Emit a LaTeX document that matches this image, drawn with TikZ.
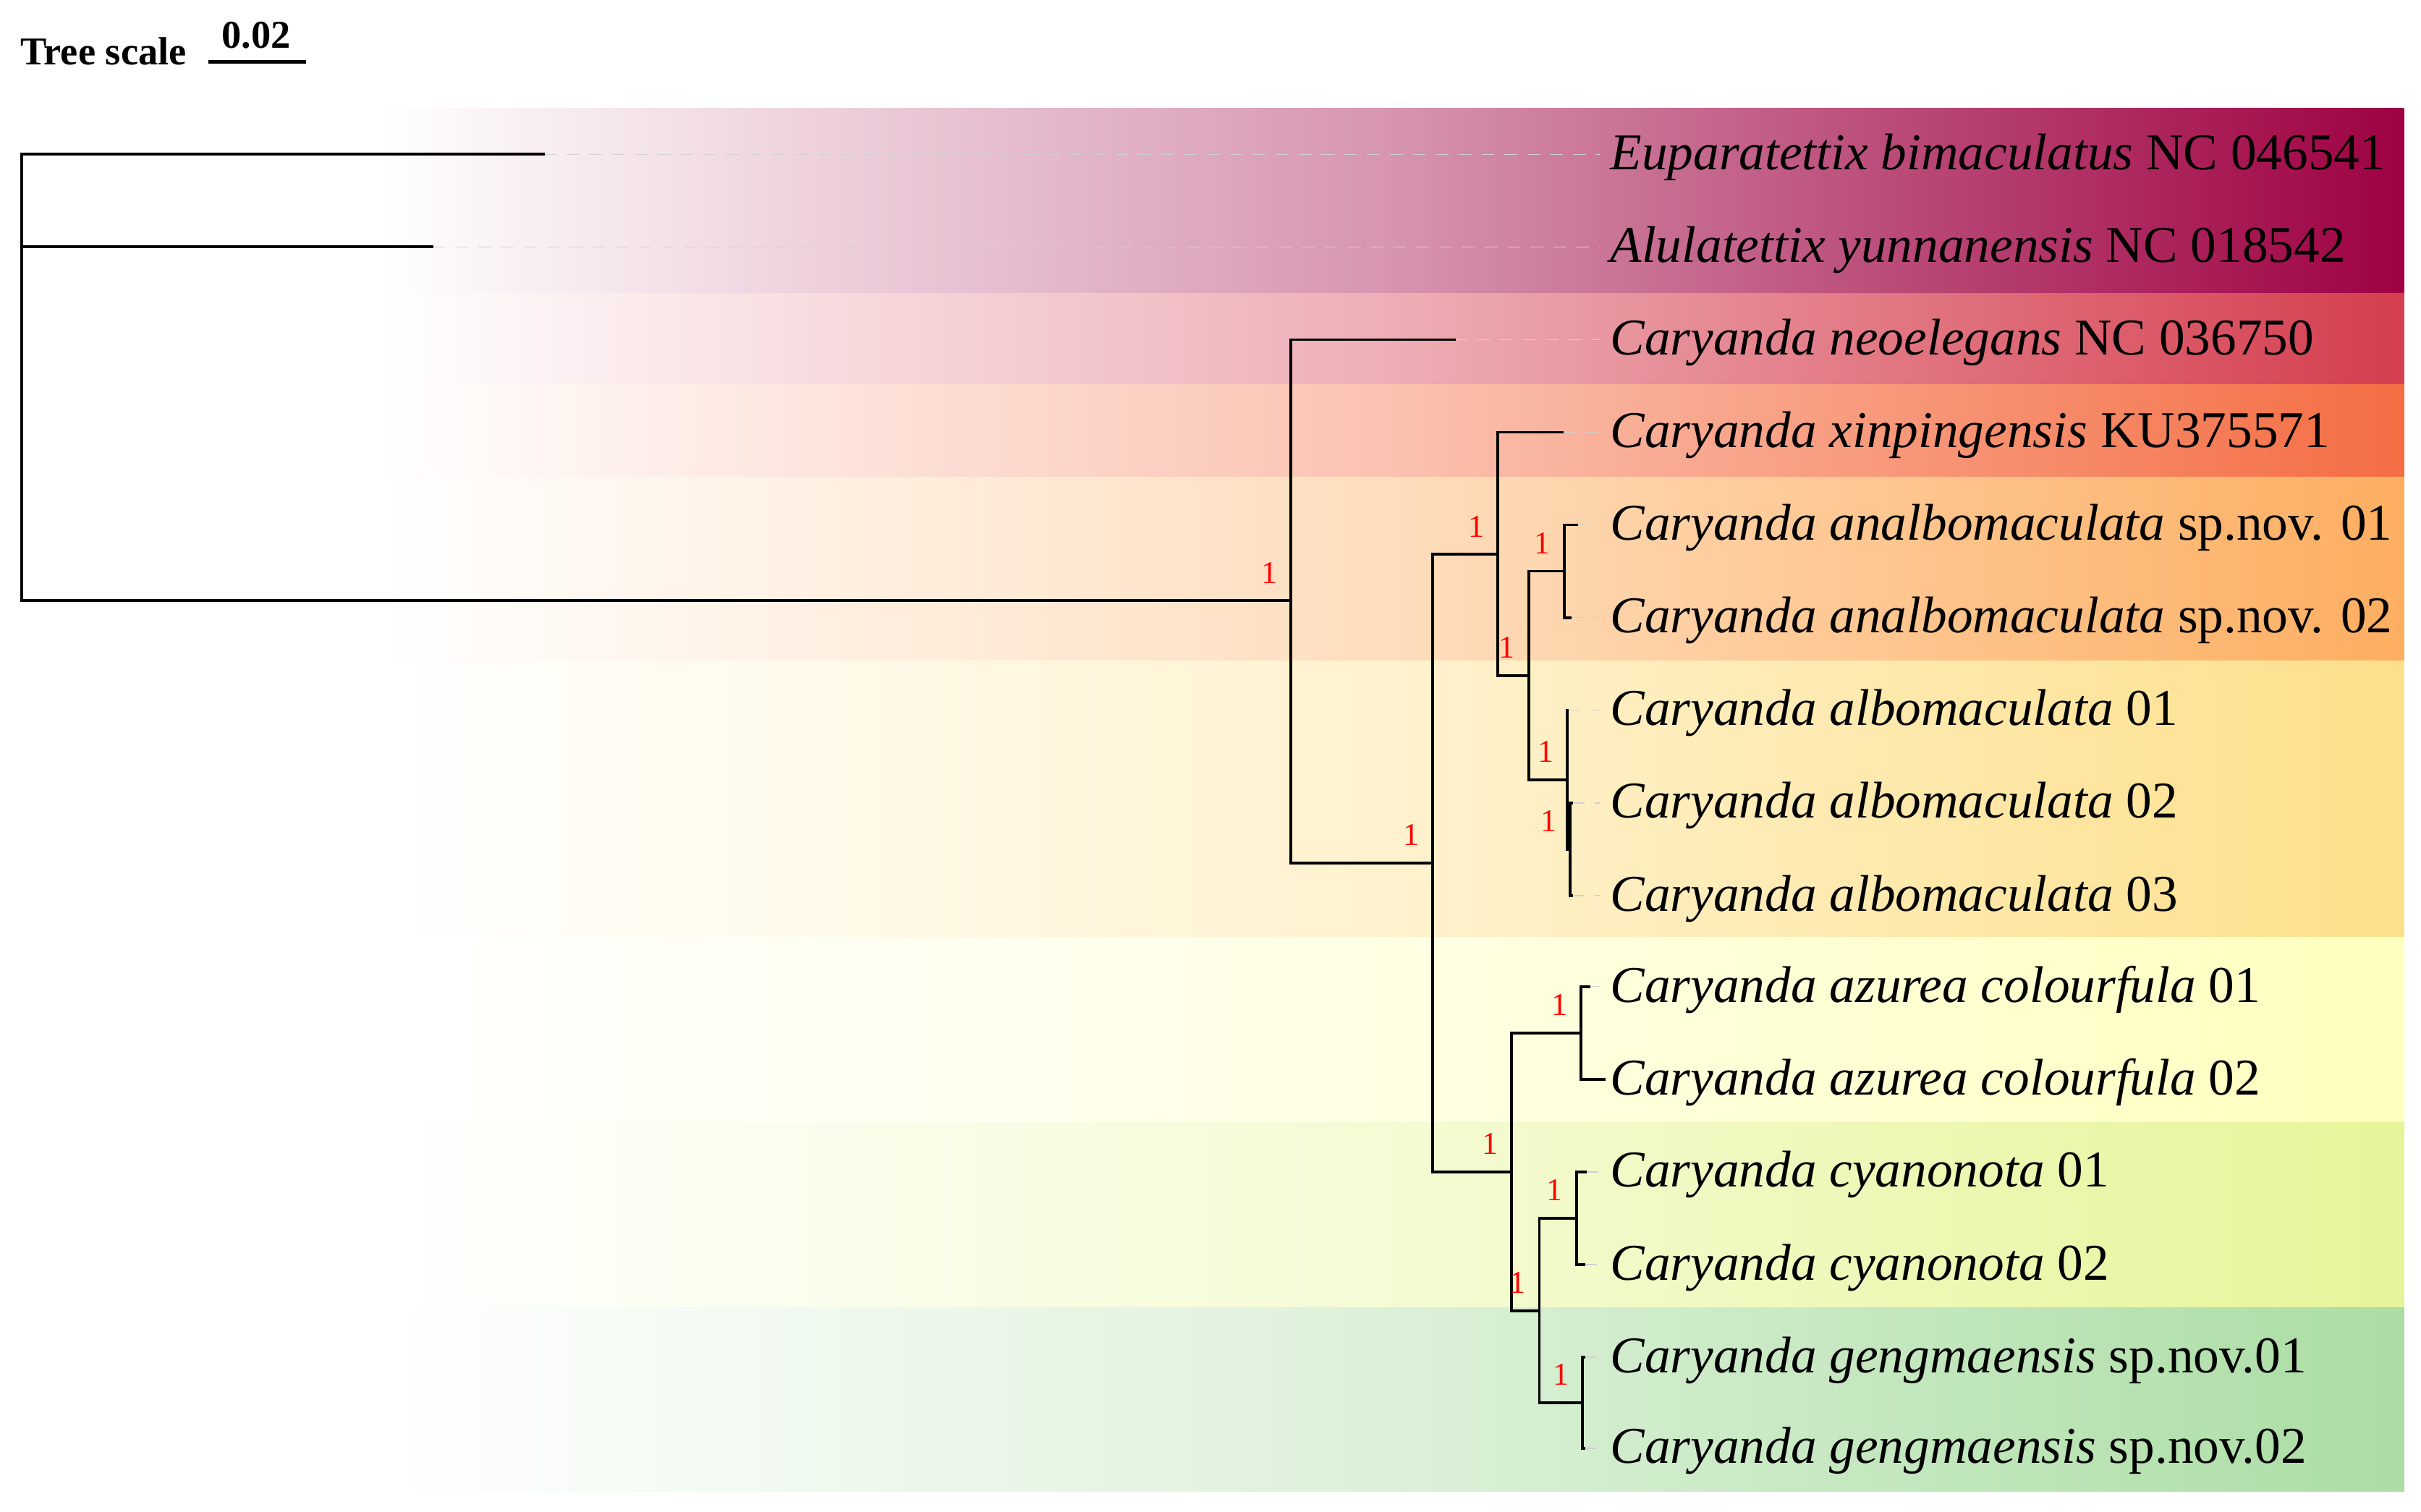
\documentclass[tikz,border=0pt]{standalone}
\usepackage{fontspec}
\setmainfont{Liberation Serif}

\definecolor{spec1}{HTML}{9E0142}
\definecolor{spec2}{HTML}{D53E4F}
\definecolor{spec3}{HTML}{F46D43}
\definecolor{spec4}{HTML}{FDAE61}
\definecolor{spec5}{HTML}{FEE08B}
\definecolor{spec6}{HTML}{FFFFBF}
\definecolor{spec7}{HTML}{E6F598}
\definecolor{spec8}{HTML}{ABDDA4}

\begin{document}
\begin{tikzpicture}[x=0.02134cm,y=-0.02134cm,
  branch/.style={line width=1.1pt,line cap=rect},
  leader/.style={draw=black!18,line width=0.5pt,dash pattern=on 5pt off 4pt},
  taxon/.style={anchor=west,inner xsep=4pt,font=\fontsize{20.3}{24}\selectfont},
  boot/.style={text=red,inner sep=0pt,font=\fontsize{12.5}{14}\selectfont},
  band/.style={left color=white,right color=#1,middle color=#1!42!white}]
  \useasboundingbox (0,0) rectangle (1568,979);

  % colour ranges
  \shade[band=spec1] (245,70) rectangle (1557,190);
  \shade[band=spec2] (245,190) rectangle (1557,249);
  \shade[band=spec3] (245,249) rectangle (1557,309);
  \shade[band=spec4] (245,309) rectangle (1557,428);
  \shade[band=spec5] (245,428) rectangle (1557,607);
  \shade[band=spec6] (245,607) rectangle (1557,727);
  \shade[band=spec7] (245,727) rectangle (1557,847);
  \shade[band=spec8] (245,847) rectangle (1557,966);

  % scale
  \node[anchor=base west,inner sep=0pt,font=\fontsize{15.5}{18}\selectfont\bfseries] (scaletxt) at (13,42) {Tree scale};
  \coordinate (sb1) at (135,40);
  \coordinate (sb2) at (198,40);
  \draw[line width=1.4pt] (sb1) -- (sb2);
  \node[anchor=base,inner sep=0pt,font=\fontsize{15.5}{18}\selectfont\bfseries] (sbval) at (166,31) {0.02};

  % leaves
  \coordinate (t1) at (352,100);
  \coordinate (t2) at (280,160);
  \coordinate (t3) at (942,220);
  \coordinate (t4) at (1012,280);
  \coordinate (t5) at (1021,340);
  \coordinate (t6) at (1017,400);
  \coordinate (t7) at (1015,460);
  \coordinate (t8) at (1018,520);
  \coordinate (t9) at (1018,580);
  \coordinate (t10) at (1029,639);
  \coordinate (t11) at (1039,699);
  \coordinate (t12) at (1027,759);
  \coordinate (t13) at (1026,819);
  \coordinate (t14) at (1026,879);
  \coordinate (t15) at (1026,938);

  \node[taxon] (lab1) at (1036,102) {\textit{Euparatettix bimaculatus} NC 046541};
  \node[taxon] (lab2) at (1036,162) {\textit{Alulatettix yunnanensis} NC 018542};
  \node[taxon] (lab3) at (1036,222) {\textit{Caryanda neoelegans} NC 036750};
  \node[taxon] (lab4) at (1036,282) {\textit{Caryanda xinpingensis} KU375571};
  \node[taxon] (lab5) at (1036,342) {\textit{Caryanda analbomaculata} sp.nov. 01};
  \node[taxon] (lab6) at (1036,402) {\textit{Caryanda analbomaculata} sp.nov. 02};
  \node[taxon] (lab7) at (1036,462) {\textit{Caryanda albomaculata} 01};
  \node[taxon] (lab8) at (1036,522) {\textit{Caryanda albomaculata} 02};
  \node[taxon] (lab9) at (1036,582) {\textit{Caryanda albomaculata} 03};
  \node[taxon] (lab10) at (1036,641) {\textit{Caryanda azurea colourfula} 01};
  \node[taxon] (lab11) at (1036,701) {\textit{Caryanda azurea colourfula} 02};
  \node[taxon] (lab12) at (1036,761) {\textit{Caryanda cyanonota} 01};
  \node[taxon] (lab13) at (1036,821) {\textit{Caryanda cyanonota} 02};
  \node[taxon] (lab14) at (1036,881) {\textit{Caryanda gengmaensis} sp.nov.01};
  \node[taxon] (lab15) at (1036,940) {\textit{Caryanda gengmaensis} sp.nov.02};

  \draw[leader] (t1) -- (t1 -| lab1.west);
  \draw[leader] (t2) -- (t2 -| lab2.west);
  \draw[leader] (t3) -- (t3 -| lab3.west);
  \draw[leader] (t4) -- (t4 -| lab4.west);
  \draw[leader] (t5) -- (t5 -| lab5.west);
  \draw[leader] (t6) -- (t6 -| lab6.west);
  \draw[leader] (t7) -- (t7 -| lab7.west);
  \draw[leader] (t8) -- (t8 -| lab8.west);
  \draw[leader] (t9) -- (t9 -| lab9.west);
  \draw[leader] (t10) -- (t10 -| lab10.west);
  \draw[leader] (t11) -- (t11 -| lab11.west);
  \draw[leader] (t12) -- (t12 -| lab12.west);
  \draw[leader] (t13) -- (t13 -| lab13.west);
  \draw[leader] (t14) -- (t14 -| lab14.west);
  \draw[leader] (t15) -- (t15 -| lab15.west);

  % internal nodes
  \coordinate (root) at (14,389);
  \coordinate (n1) at (836,389);
  \coordinate (n2) at (928,559);
  \coordinate (n3) at (970,359);
  \coordinate (n4) at (990,437.5);
  \coordinate (n5) at (1013,370);
  \coordinate (n6) at (1015,505);
  \coordinate (n7) at (1017,550);
  \coordinate (n8) at (979,759);
  \coordinate (n9) at (1024,669);
  \coordinate (n10) at (997,849);
  \coordinate (n11) at (1021,789);
  \coordinate (n12) at (1025,908.5);

  \draw[branch] (root) |- (t1) (root) |- (t2) (root) -- (n1);
  \draw[branch] (n1) |- (t3) (n1) |- (n2);
  \draw[branch] (n2) |- (n3) (n2) |- (n8);
  \draw[branch] (n3) |- (t4) (n3) |- (n4);
  \draw[branch] (n4) |- (n5) (n4) |- (n6);
  \draw[branch] (n5) |- (t5) (n5) |- (t6);
  \draw[branch] (n6) |- (t7) (n6) |- (n7);
  \draw[branch] (n7) |- (t8) (n7) |- (t9);
  \draw[branch] (n8) |- (n9) (n8) |- (n10);
  \draw[branch] (n9) |- (t10) (n9) |- (t11);
  \draw[branch] (n10) |- (n11) (n10) |- (n12);
  \draw[branch] (n11) |- (t12) (n11) |- (t13);
  \draw[branch] (n12) |- (t14) (n12) |- (t15);

  % support values
  \node[boot] (b1) at ([shift={(-14,-18)}]n1) {1};
  \node[boot] (b2) at ([shift={(-14,-18)}]n2) {1};
  \node[boot] (b3) at ([shift={(-14,-18)}]n3) {1};
  \node[boot] (b4) at ([shift={(-14,-18)}]n4) {1};
  \node[boot] (b5) at ([shift={(-14,-18)}]n5) {1};
  \node[boot] (b6) at ([shift={(-14,-18)}]n6) {1};
  \node[boot] (b7) at ([shift={(-14,-18)}]n7) {1};
  \node[boot] (b8) at ([shift={(-14,-18)}]n8) {1};
  \node[boot] (b9) at ([shift={(-14,-18)}]n9) {1};
  \node[boot] (b10) at ([shift={(-14,-18)}]n10) {1};
  \node[boot] (b11) at ([shift={(-14,-18)}]n11) {1};
  \node[boot] (b12) at ([shift={(-14,-18)}]n12) {1};
\end{tikzpicture}
\end{document}
